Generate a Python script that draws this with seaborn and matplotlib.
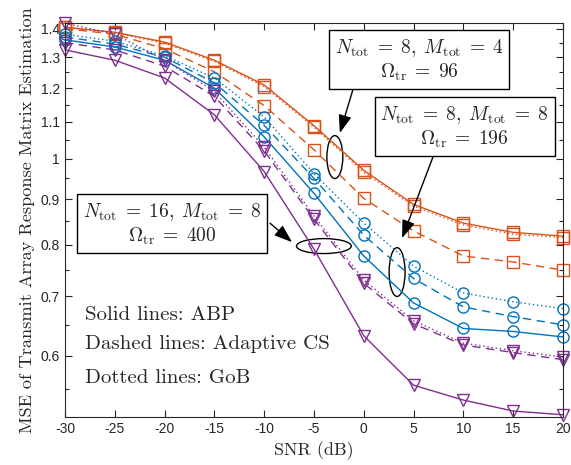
import numpy as np
import pandas as pd
import matplotlib
matplotlib.use("Agg")
import matplotlib.pyplot as plt
import seaborn as sns
from matplotlib.patches import Ellipse
from matplotlib.ticker import FixedLocator, NullFormatter

# Datos
snr = [-30, -25, -20, -15, -10, -5, 0, 5, 10, 15, 20]

# N_tot = 8, M_tot = 4 (cuadrados)
n8m4_abp = [1.405, 1.387, 1.352, 1.290, 1.210, 1.089, 0.970, 0.888, 0.846, 0.826, 0.818]
n8m4_cs = [1.400, 1.380, 1.329, 1.252, 1.147, 1.023, 0.902, 0.829, 0.777, 0.765, 0.749]
n8m4_gob = [1.405, 1.385, 1.348, 1.286, 1.205, 1.085, 0.965, 0.884, 0.842, 0.822, 0.815]

# N_tot = 8, M_tot = 8 (circulos)
n8m8_abp = [1.360, 1.335, 1.290, 1.200, 1.058, 0.914, 0.777, 0.688, 0.644, 0.639, 0.630]
n8m8_cs = [1.370, 1.345, 1.300, 1.217, 1.090, 0.950, 0.820, 0.733, 0.681, 0.664, 0.650]
n8m8_gob = [1.380, 1.355, 1.305, 1.232, 1.114, 0.962, 0.846, 0.757, 0.706, 0.690, 0.678]

# N_tot = 16, M_tot = 8 (triangulos)
n16m8_abp = [1.325, 1.290, 1.232, 1.120, 0.967, 0.791, 0.632, 0.556, 0.535, 0.520, 0.515]
n16m8_cs = [1.350, 1.325, 1.270, 1.175, 1.020, 0.855, 0.724, 0.652, 0.617, 0.605, 0.594]
n16m8_gob = [1.420, 1.380, 1.290, 1.190, 1.030, 0.862, 0.730, 0.657, 0.620, 0.608, 0.598]

naranja = "#D95319"
azul = "#0072BD"
morado = "#7E2F8E"

series = [
    (n8m4_abp, naranja, "s", "-"),
    (n8m4_cs, naranja, "s", (0, (6, 4))),
    (n8m4_gob, naranja, "s", (0, (1, 2))),
    (n8m8_abp, azul, "o", "-"),
    (n8m8_cs, azul, "o", (0, (6, 4))),
    (n8m8_gob, azul, "o", (0, (1, 2))),
    (n16m8_abp, morado, "v", "-"),
    (n16m8_cs, morado, "v", (0, (6, 4))),
    (n16m8_gob, morado, "v", (0, (1, 2))),
]

sns.set_theme(style="ticks")
plt.rcParams["font.family"] = ["Liberation Sans", "DejaVu Sans"]
plt.rcParams["mathtext.fontset"] = "cm"

fig = plt.figure(figsize=(5.71, 4.65), dpi=100)
ax = fig.add_axes([0.1138, 0.1032, 0.872, 0.847])

for vals, color, marker, ls in series:
    df = pd.DataFrame({"snr": snr, "mse": vals})
    sns.lineplot(data=df, x="snr", y="mse", color=color, marker=marker,
                 linestyle=ls, linewidth=1.0, markersize=8,
                 markerfacecolor="none", markeredgecolor=color,
                 markeredgewidth=1.0, ax=ax, clip_on=False)

ax.set_yscale("log")
ax.set_xlim(-30, 20)
ax.set_ylim(0.512, 1.42)
ax.set_xticks(snr)
ax.set_xticklabels([str(s) for s in snr])
ax.yaxis.set_major_locator(FixedLocator([0.6, 0.7, 0.8, 0.9, 1.0, 1.1, 1.2, 1.3, 1.4]))
ax.set_yticklabels(["0.6", "0.7", "0.8", "0.9", "1", "1.1", "1.2", "1.3", "1.4"])
ax.yaxis.set_minor_locator(FixedLocator([0.55, 0.65, 0.75, 0.85, 0.95, 1.05, 1.15, 1.25, 1.35]))
ax.yaxis.set_minor_formatter(NullFormatter())

ax.tick_params(which="both", direction="in", top=True, right=True,
               colors="#262626", labelsize=10, width=0.8)
ax.tick_params(which="major", length=5)
ax.tick_params(which="minor", length=3)
for s in ax.spines.values():
    s.set_color("#262626")
    s.set_linewidth(0.8)

ax.set_xlabel("SNR (dB)", family="cmr10", fontsize=13, color="#262626", labelpad=4)
ax.set_ylabel("MSE of Transmit Array Response Matrix Estimation", family="cmr10",
              fontsize=13.1, color="#262626", labelpad=4)

# textos de tipo de linea
ax.text(0.04, 0.26, "Solid lines: ABP", transform=ax.transAxes, family="cmr10",
        fontsize=15, va="center")
ax.text(0.04, 0.185, "Dashed lines: Adaptive CS", transform=ax.transAxes, family="cmr10",
        fontsize=15, va="center")
ax.text(0.04, 0.10, "Dotted lines: GoB", transform=ax.transAxes, family="cmr10",
        fontsize=15, va="center")

# elipses
ax.add_patch(Ellipse((0.542, 0.660), 0.032, 0.109, transform=ax.transAxes,
                     fill=False, ec="black", lw=1.0))
ax.add_patch(Ellipse((0.667, 0.368), 0.032, 0.124, transform=ax.transAxes,
                     fill=False, ec="black", lw=1.0))
ax.add_patch(Ellipse((0.520, 0.434), 0.110, 0.038, transform=ax.transAxes,
                     fill=False, ec="black", lw=1.0))

# flechas
flecha = dict(arrowstyle="-|>,head_length=0.5,head_width=0.18", color="black", lw=1.0,
              mutation_scale=22, shrinkA=0, shrinkB=0)
ax.annotate("", xy=(0.552, 0.721), xytext=(0.578, 0.830), xycoords="axes fraction",
            arrowprops=flecha)
ax.annotate("", xy=(0.677, 0.454), xytext=(0.739, 0.660), xycoords="axes fraction",
            arrowprops=flecha)
ax.annotate("", xy=(0.456, 0.444), xytext=(0.412, 0.492), xycoords="axes fraction",
            arrowprops=flecha)

# cajas
caja = dict(boxstyle="square,pad=0.3", fc="white", ec="black", lw=1.0)
ax.text(0.711, 0.906, r"$N_{\mathrm{tot}}\;=\;8,\;M_{\mathrm{tot}}\;=\;4$" + "\n" + r"$\Omega_{\mathrm{tr}}\;=\;96$",
        transform=ax.transAxes, ha="center", va="center", fontsize=14,
        multialignment="center", bbox=caja)
ax.text(0.803, 0.736, r"$N_{\mathrm{tot}}\;=\;8,\;M_{\mathrm{tot}}\;=\;8$" + "\n" + r"$\Omega_{\mathrm{tr}}\;=\;196$",
        transform=ax.transAxes, ha="center", va="center", fontsize=14,
        multialignment="center", bbox=caja)
ax.text(0.215, 0.490, r"$N_{\mathrm{tot}}\;=\;16,\;M_{\mathrm{tot}}\;=\;8$" + "\n" + r"$\Omega_{\mathrm{tr}}\;=\;400$",
        transform=ax.transAxes, ha="center", va="center", fontsize=14,
        multialignment="center", bbox=caja)

plt.savefig("out.png", dpi=100)
